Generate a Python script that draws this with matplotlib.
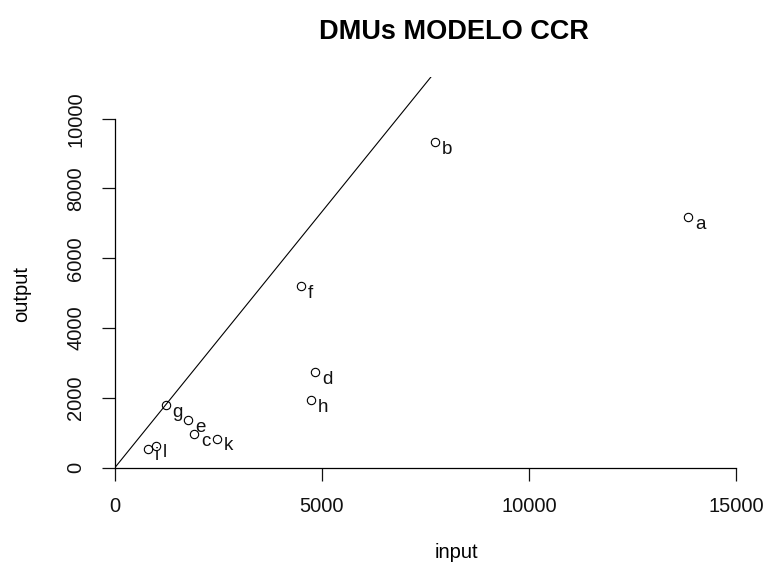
import matplotlib
matplotlib.use("Agg")
import matplotlib.pyplot as plt

# DMU data
dmus = ["a", "b", "c", "d", "e", "f", "g", "h", "i", "k", "l"]
inputs = [13840, 7730, 1910, 4830, 1760, 4490, 1220, 4730, 800, 2460, 990]
outputs = [7180, 9330, 950, 2730, 1360, 5200, 1790, 1930, 530, 820, 620]

# efficient frontier passes through the origin and DMU g
g_idx = dmus.index("g")

plt.rcParams['font.family'] = ['Liberation Sans', 'DejaVu Sans']

fig = plt.figure(figsize=(7.69, 5.64), dpi=100)
ax = fig.add_axes([115 / 769, (564 - 467.5) / 564, (736 - 115) / 769, (467.5 - 77) / 564])

ax.plot(inputs, outputs, 'o', markersize=6, markerfacecolor='none',
        markeredgecolor='black', markeredgewidth=0.8, clip_on=False)
ax.axline((0, 0), (inputs[g_idx], outputs[g_idx]), color='black', linewidth=0.8)

for name, x, y in zip(dmus, inputs, outputs):
    ax.annotate(name, (x, y), xytext=(5, -5), textcoords='offset points',
                ha='left', va='center', fontsize=13.5, color='#111111')

ax.set_xlim(0, 15000)
ax.set_ylim(0, 9330 * 1.2)
ax.set_xticks([0, 5000, 10000, 15000])
ax.set_yticks([0, 2000, 4000, 6000, 8000, 10000])
ax.spines['top'].set_visible(False)
ax.spines['right'].set_visible(False)
ax.spines['bottom'].set_bounds(0, 15000)
ax.spines['left'].set_bounds(0, 10000)
ax.spines['bottom'].set_linewidth(0.9)
ax.spines['left'].set_linewidth(0.9)
ax.tick_params(direction='out', length=9.5, width=0.9, pad=12, labelsize=14.5,
               colors='#111111')
for lab in ax.get_yticklabels():
    lab.set_rotation(90)
    lab.set_va('center')

fig.text(454 / 769, 1 - 32 / 564, "DMUs MODELO CCR", ha='center', va='center',
         fontsize=19.5, fontweight='bold')
fig.text(456 / 769, 1 - 553 / 564, "input", ha='center', va='center', fontsize=14.5)
fig.text(22 / 769, 1 - 294 / 564, "output", ha='center', va='center',
         fontsize=14.5, rotation=90)

plt.savefig("out.png", dpi=100)
